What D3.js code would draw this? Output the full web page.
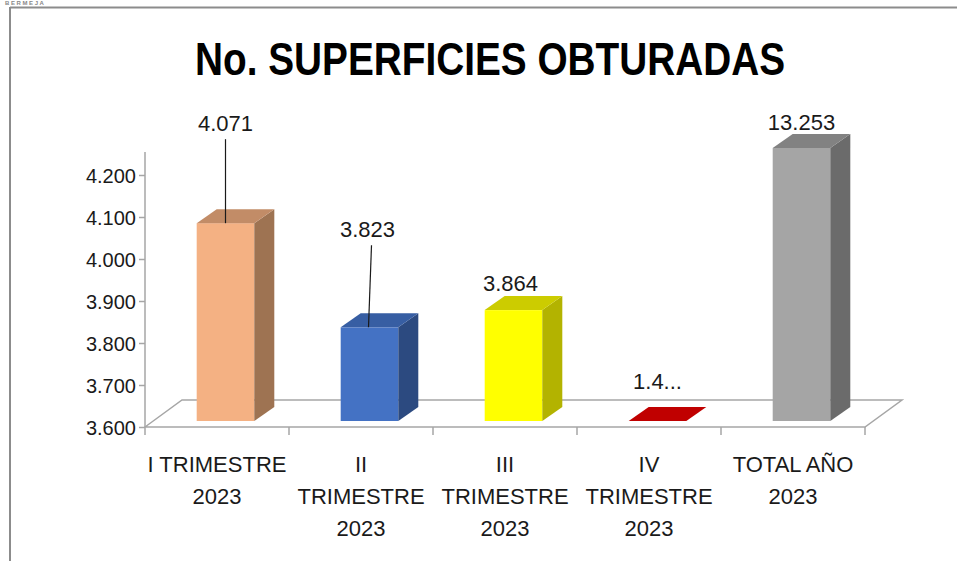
<!DOCTYPE html>
<html><head><meta charset="utf-8">
<script src="https://cdn.jsdelivr.net/npm/d3@7"></script>
<style>html,body{margin:0;padding:0;background:#fff;overflow:hidden}</style>
</head><body>
<svg id="c" width="957" height="561"></svg>
<script>
const categories = [["I TRIMESTRE","2023"],["II","TRIMESTRE","2023"],["III","TRIMESTRE","2023"],["IV","TRIMESTRE","2023"],["TOTAL AÑO","2023"]];
const values = [4071, 3823, 3864, 1495, 13253];
const valueLabels = ["4.071","3.823","3.864","1.4...","13.253"];
const tickValues = [3600,3700,3800,3900,4000,4100,4200];
const tickLabels = ["3.600","3.700","3.800","3.900","4.000","4.100","4.200"];
const title = "No. SUPERFICIES OBTURADAS";

const frontColors = ["#F4B183","#4472C4","#FFFF00","#C00000","#A5A5A5"];
const sideColors  = ["#9E7352","#2C4A80","#B3B300","#8A0000","#6B6B6B"];
const topColors   = ["#C28C67","#375EA3","#CCCC00","#C00000","#828282"];
// label baseline distance above bar's back top edge (px), horizontal shift, leader flag
const labelDy = [78, 76, 5, 18, 4];
const labelDx = [0, -2, -3, 0, 0];
const leader = [true, true, false, false, false];

const svg = d3.select("#c");
const font = "'Liberation Sans', Arial, sans-serif";
const grey = "#A6A6A6";

// chart border
svg.append("line").attr("x1",10).attr("y1",7.5).attr("x2",957).attr("y2",7.5).attr("stroke","#8c8c8c").attr("stroke-width",2);
svg.append("line").attr("x1",10).attr("y1",7).attr("x2",10).attr("y2",561).attr("stroke","#8c8c8c").attr("stroke-width",2);
svg.append("text").attr("x",5).attr("y",5).attr("font-family",font)
  .attr("font-size",6).attr("font-weight","bold").attr("letter-spacing",1.6).attr("fill","#888").text("BERMEJA");

// title
svg.append("text").attr("x",490).attr("y",75).attr("text-anchor","middle").attr("font-family",font)
  .attr("font-weight","bold").attr("font-size",46).attr("textLength",590).attr("lengthAdjust","spacingAndGlyphs")
  .attr("fill","#000").text(title);

const x = d3.scaleBand().domain(d3.range(values.length)).range([145,865]).padding(0);
const y = d3.scaleLinear().domain([3600,4250]).range([427,154]);

const floorDx = 37, floorDy = 27;
// floor
svg.append("path").attr("fill","none").attr("stroke",grey).attr("stroke-width",1.5)
  .attr("d",`M${x.range()[0]},${y(3600)} L${x.range()[0]+floorDx},${y(3600)-floorDy} L${x.range()[1]+floorDx},${y(3600)-floorDy} L${x.range()[1]},${y(3600)} Z`);

// y axis
const yAxis = d3.axisLeft(y).tickValues(tickValues).tickFormat((d,i)=>tickLabels[i]).tickSize(6).tickPadding(3);
const gy = svg.append("g").attr("transform","translate(145,0)").call(yAxis);
gy.select(".domain").attr("stroke",grey).attr("stroke-width",1.5).attr("d",`M-0,${y(4250)-2}V${y(3600)}`);
gy.selectAll(".tick line").attr("stroke",grey).attr("stroke-width",1.5);
gy.selectAll(".tick text").attr("font-family",font).attr("font-size",20).attr("fill","#1a1a1a").attr("dy","0.36em");

// x axis ticks
const xt = svg.append("g");
xt.selectAll("line").data(d3.range(values.length+1)).join("line")
  .attr("x1",i=>x.range()[0]+i*x.bandwidth()).attr("x2",i=>x.range()[0]+i*x.bandwidth())
  .attr("y1",y(3600)).attr("y2",y(3600)+8).attr("stroke",grey).attr("stroke-width",1.5);

// category labels
const cl = svg.append("g");
categories.forEach((lines,i)=>{
  const t = cl.append("text").attr("text-anchor","middle").attr("font-family",font).attr("font-size",22).attr("fill","#1a1a1a");
  lines.forEach((ln,j)=>{
    t.append("tspan").attr("x",x(i)+x.bandwidth()/2).attr("y",472+j*32).text(ln);
  });
});

// bars
const bw = x.bandwidth()*0.4, off = 8.5, bdx = 20, bdy = 14, lift = 6;
const bars = svg.append("g");
values.forEach((v,i)=>{
  const cx = x(i)+x.bandwidth()/2+off;
  const x0 = cx-bw/2, x1 = cx+bw/2;
  const base = y(3600)-lift;
  const vv = Math.max(y.domain()[0], Math.min(y.domain()[1], v));
  const top = y(vv)-lift;
  const g = bars.append("g");
  if (top < base) {
    g.append("rect").attr("x",x0).attr("y",top).attr("width",bw).attr("height",base-top).attr("fill",frontColors[i]);
    g.append("polygon").attr("points",`${x1},${top} ${x1+bdx},${top-bdy} ${x1+bdx},${base-bdy} ${x1},${base}`).attr("fill",sideColors[i]);
  }
  g.append("polygon").attr("points",`${x0},${top} ${x0+bdx},${top-bdy} ${x1+bdx},${top-bdy} ${x1},${top}`).attr("fill",topColors[i]);

  const ly = top-bdy-labelDy[i];
  svg.append("text").attr("x",cx+labelDx[i]).attr("y",ly).attr("text-anchor","middle").attr("font-family",font)
    .attr("font-size",22).attr("fill","#1a1a1a").text(valueLabels[i]);
  if (leader[i]) {
    svg.append("line").attr("x1",i===1?cx+2:cx).attr("y1",ly+8).attr("x2",i===1?cx-1:cx).attr("y2",top)
      .attr("stroke","#1a1a1a").attr("stroke-width",1.2);
  }
});
</script>
</body></html>
